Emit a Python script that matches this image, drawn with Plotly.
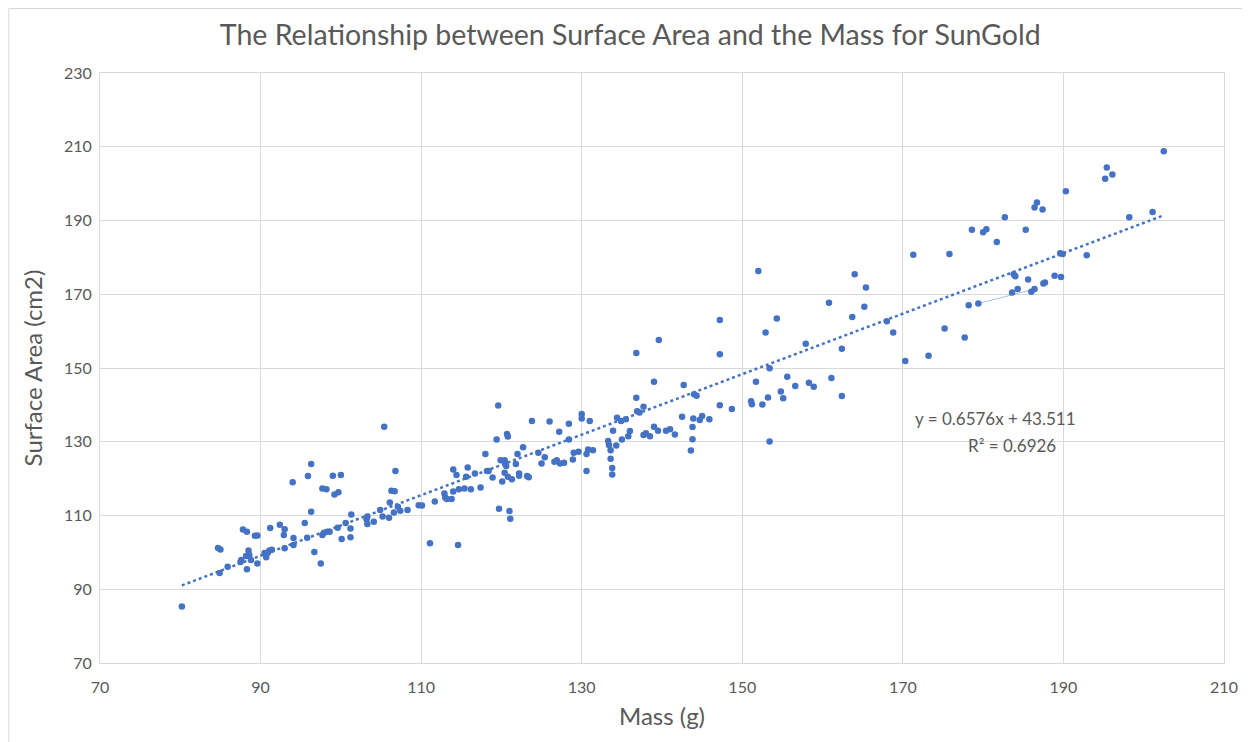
import numpy as np
import plotly.graph_objects as go

# SunGold fruit: mass (g) vs surface area (cm2)
mass = [
    80.2, 84.7, 85.0, 84.9, 85.9, 87.5, 87.6, 87.8, 88.3, 88.3,
    88.5, 88.6, 88.2, 88.8, 89.3, 89.6, 89.6, 90.5, 90.7, 91.1,
    91.4, 90.9, 91.2, 92.4, 93.0, 92.9, 93.0, 94.0, 94.1, 94.1,
    95.5, 95.8, 95.9, 96.3, 96.3, 96.7, 97.5, 97.7, 98.2, 97.7,
    97.9, 98.3, 98.6, 99.0, 100.0, 99.2, 99.7, 99.6, 100.1, 100.6,
    101.2, 101.3, 101.2, 103.2, 103.3, 104.1, 103.3, 104.9, 105.2, 106.0,
    105.4, 106.1, 106.3, 106.7, 106.8, 106.6, 107.1, 107.4, 108.3, 109.7,
    110.1, 119.6, 111.1, 114.6, 119.7, 121.0, 121.1, 111.7, 112.9, 113.0,
    113.2, 113.8, 114.0, 114.7, 115.4, 116.2, 117.4, 114.0, 114.4, 115.8,
    115.6, 116.7, 118.2, 118.4, 118.0, 118.9, 119.4, 119.9, 120.4, 120.5,
    120.6, 120.4, 120.8, 121.3, 120.1, 120.7, 120.8, 122.0, 122.7, 121.8,
    122.2, 122.2, 123.2, 123.4, 123.8, 124.6, 125.4, 125.0, 126.0, 126.6,
    126.9, 127.3, 127.8, 127.2, 128.4, 128.4, 129.0, 128.9, 129.6, 130.0,
    130.0, 130.6, 130.6, 130.8, 131.4, 131.0, 133.3, 133.4, 133.6, 134.3,
    133.6, 133.8, 133.8, 135.0, 135.8, 136.0, 133.9, 134.4, 134.9, 135.5,
    136.8, 136.9, 137.2, 137.7, 139.0, 137.7, 138.0, 138.5, 139.0, 139.5,
    140.5, 141.0, 141.6, 136.8, 139.6, 147.2, 147.2, 142.7, 144.0, 144.3,
    152.9, 154.3, 160.8, 162.4, 157.9, 153.4, 151.7, 155.6, 156.6, 158.3,
    158.9, 161.1, 162.4, 154.8, 155.1, 153.2, 151.1, 151.2, 152.5, 148.7,
    147.2, 142.5, 143.9, 144.7, 145.0, 145.9, 143.8, 143.8, 143.6, 153.4,
    164.0, 165.4, 165.2, 163.7, 168.0, 168.8, 171.3, 175.8, 181.7, 170.3,
    173.2, 175.2, 177.7, 178.2, 179.4, 183.6, 184.3, 185.6, 186.0, 186.4,
    187.5, 183.8, 184.0, 202.5, 195.4, 195.2, 196.1, 190.3, 186.7, 186.4,
    187.4, 182.7, 178.6, 180.0, 180.4, 185.3, 198.2, 201.1, 189.6, 189.9,
    192.9, 188.9, 189.7, 187.7, 152.0,
]
surface_area = [
    85.3, 101.2, 100.8, 94.4, 96.1, 97.4, 97.9, 106.2, 105.6, 95.4,
    100.5, 99.3, 99.0, 97.9, 104.5, 104.6, 97.0, 99.8, 98.7, 100.5,
    100.7, 99.9, 106.6, 107.5, 106.3, 104.7, 101.1, 119.0, 103.9, 102.0,
    108.0, 104.0, 120.7, 124.0, 111.0, 100.1, 97.0, 117.3, 117.1, 104.7,
    105.3, 105.6, 105.6, 120.8, 121.0, 115.7, 116.3, 106.7, 103.6, 108.0,
    104.1, 110.3, 106.5, 109.0, 107.7, 108.3, 109.7, 111.5, 109.7, 109.4,
    134.1, 113.5, 116.7, 116.6, 122.1, 110.8, 112.4, 111.3, 111.5, 112.8,
    112.7, 139.8, 102.5, 102.0, 111.8, 111.2, 109.1, 113.8, 116.0, 114.9,
    114.5, 114.5, 116.5, 117.1, 117.3, 117.1, 117.6, 122.5, 121.0, 123.0,
    120.5, 121.4, 122.1, 122.1, 126.7, 120.3, 130.6, 125.0, 125.0, 124.0,
    123.4, 121.6, 120.5, 119.8, 119.2, 132.1, 131.4, 126.7, 128.5, 124.0,
    121.4, 120.8, 120.7, 120.4, 135.6, 127.0, 125.8, 124.1, 135.5, 124.6,
    125.0, 124.1, 124.3, 132.7, 134.9, 130.6, 127.0, 125.2, 127.3, 137.5,
    136.3, 122.1, 126.7, 127.9, 127.7, 135.6, 130.2, 129.1, 127.7, 129.0,
    125.4, 122.9, 121.1, 130.6, 131.5, 132.9, 133.0, 136.5, 135.6, 136.1,
    141.9, 138.3, 137.9, 139.5, 146.3, 131.8, 132.3, 131.5, 134.1, 133.0,
    133.0, 133.4, 132.0, 154.1, 157.6, 163.0, 153.7, 145.4, 142.9, 142.5,
    159.6, 163.4, 167.7, 155.2, 156.6, 149.9, 146.3, 147.6, 145.1, 146.0,
    144.9, 147.3, 142.4, 143.6, 141.8, 142.0, 141.0, 140.2, 140.1, 138.9,
    139.9, 136.8, 136.3, 135.9, 137.0, 136.1, 134.0, 130.7, 127.6, 130.1,
    175.4, 171.8, 166.6, 163.8, 162.7, 159.6, 180.7, 180.9, 184.2, 151.9,
    153.3, 160.7, 158.3, 167.0, 167.5, 170.5, 171.4, 174.0, 170.7, 171.4,
    172.9, 175.4, 174.9, 208.8, 204.4, 201.3, 202.5, 197.9, 194.9, 193.5,
    193.0, 190.9, 187.5, 186.8, 187.6, 187.5, 190.9, 192.3, 181.1, 180.9,
    180.6, 175.0, 174.7, 173.2, 176.3,
]

# stray connector line visible in the source chart
connector_mass = [179.4, 186.4]
connector_area = [167.5, 171.4]

equation_text = "y = 0.6576x + 43.511"
r2_text = "R² = 0.6926"

BLUE = "#4472C4"
GREY = "#595959"
GRID = "#D9D9D9"
FONT = "Lato"

W, H = 1242, 734          # page body has an 8px margin
L, R, T, B = 92, 22, 65, 79

x = np.array(mass)
y = np.array(surface_area)
slope, intercept = np.polyfit(x, y, 1)
trend_x = np.linspace(x.min(), x.max(), 2)
trend_y = slope * trend_x + intercept

fig = go.Figure()

fig.add_trace(go.Scatter(
    x=connector_mass, y=connector_area, mode="lines",
    line=dict(color="rgba(68,114,196,0.45)", width=1),
    showlegend=False, hoverinfo="skip",
))
fig.add_trace(go.Scatter(
    x=trend_x, y=trend_y, mode="lines",
    line=dict(color=BLUE, width=2.5, dash="dot"),
    showlegend=False, name="Linear trend",
))
fig.add_trace(go.Scatter(
    x=mass, y=surface_area, mode="markers",
    marker=dict(color=BLUE, size=6.5),
    showlegend=False, name="SunGold",
))

fig.add_annotation(x=181.6, y=136.4, text=equation_text, showarrow=False,
                   font=dict(family=FONT, size=17, color=GREY))
fig.add_annotation(x=183.6, y=128.9, text=r2_text, showarrow=False,
                   font=dict(family=FONT, size=17, color=GREY))

# light chart-area border (Excel style)
pw, ph = W - L - R, H - T - B
fig.add_shape(
    type="rect", xref="paper", yref="paper",
    x0=(0.5 - L) / pw, x1=(W - 0.5 - L) / pw,
    y0=-(B + 20) / ph, y1=1 + (T - 0.5) / ph,
    line=dict(color=GRID, width=1), layer="below",
)

axis_common = dict(
    showgrid=True, gridcolor=GRID, gridwidth=1,
    showline=True, linecolor=GRID, mirror=True,
    zeroline=False, ticks="",
    tickfont=dict(family=FONT, size=16, color=GREY),
    title_font=dict(family=FONT, size=24, color=GREY),
)

fig.update_xaxes(range=[70, 210], dtick=20, tick0=70, ticklabelstandoff=10,
                 title_text="Mass (g)", title_standoff=12, **axis_common)
fig.update_yaxes(range=[70, 230], dtick=20, tick0=70, ticklabelstandoff=4,
                 title_text="Surface Area (cm2)", title_standoff=14, **axis_common)

fig.update_layout(
    width=W, height=H,
    title=dict(text="The Relationship between Surface Area and the Mass for SunGold",
               x=0.501, xanchor="center", y=0.963, yanchor="middle",
               font=dict(family=FONT, size=28.5, color=GREY)),
    paper_bgcolor="white",
    plot_bgcolor="white",
    margin=dict(l=L, r=R, t=T, b=B),
)

fig.write_html("out.html")
